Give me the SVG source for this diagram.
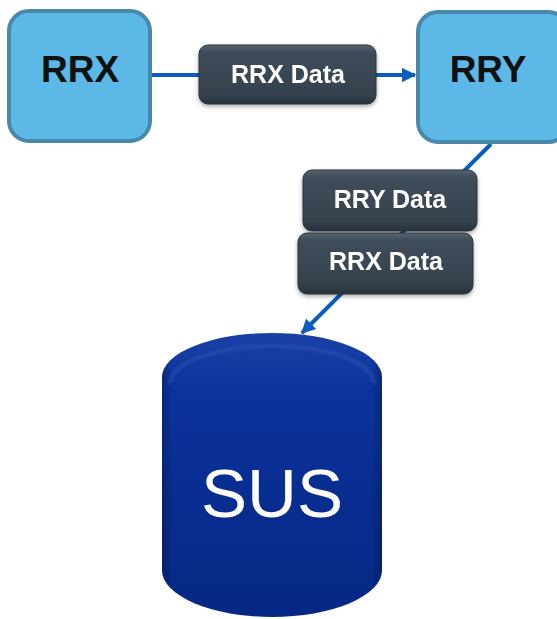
<svg xmlns="http://www.w3.org/2000/svg" width="557" height="619" viewBox="0 0 557 619">
  <style>
    .sys { fill: #5cb9e7; stroke: #4889ab; stroke-width: 4; }
    .sys-label { font-family: "Liberation Sans", Arial, sans-serif; font-weight: bold; font-size: 37px; fill: #111; text-anchor: middle; }
    .data { fill: url(#dataGrad); stroke: #2a343d; stroke-width: 1; }
    .data-label { font-family: "Liberation Sans", Arial, sans-serif; font-weight: bold; font-size: 25px; fill: #fff; text-anchor: middle; }
    .link { stroke: #0b5dbd; stroke-width: 4; fill: none; }
    .db-label { font-family: "Liberation Sans", Arial, sans-serif; font-size: 69px; fill: #fff; text-anchor: middle; }
  </style>
  <defs>
    <linearGradient id="dataGrad" x1="0" y1="0" x2="0" y2="1">
      <stop offset="0" stop-color="#56646f"/>
      <stop offset="0.12" stop-color="#3f4d5a"/>
      <stop offset="0.85" stop-color="#34414d"/>
      <stop offset="1" stop-color="#28323b"/>
    </linearGradient>
    <linearGradient id="dbGrad" x1="0" y1="0" x2="0" y2="1">
      <stop offset="0" stop-color="#1a41a6"/>
      <stop offset="0.2" stop-color="#0b339c"/>
      <stop offset="1" stop-color="#062784"/>
    </linearGradient>
    <linearGradient id="dbSide" x1="0" y1="0" x2="1" y2="0">
      <stop offset="0" stop-color="#000" stop-opacity="0.22"/>
      <stop offset="0.05" stop-color="#000" stop-opacity="0"/>
      <stop offset="0.95" stop-color="#000" stop-opacity="0"/>
      <stop offset="1" stop-color="#000" stop-opacity="0.22"/>
    </linearGradient>
    <filter id="shadow" x="-10%" y="-10%" width="120%" height="130%">
      <feDropShadow dx="0" dy="2" stdDeviation="2" flood-color="#000" flood-opacity="0.35"/>
    </filter>
    <filter id="soft" x="-5%" y="-5%" width="110%" height="110%">
      <feGaussianBlur stdDeviation="1.5"/>
    </filter>
    <marker id="arrow" viewBox="0 0 10 10" refX="9" refY="5" markerWidth="3.6" markerHeight="3.6" orient="auto">
      <path d="M0,0 L10,5 L0,10 Z" fill="#0b5dbd"/>
    </marker>
  </defs>

  <!-- connectors -->
  <g id="connectors">
    <line class="link" x1="152" y1="75" x2="415" y2="75" marker-end="url(#arrow)"/>
    <line class="link" x1="491" y1="144" x2="302" y2="333" marker-end="url(#arrow)"/>
  </g>

  <!-- source system -->
  <g id="rrx">
    <rect class="sys" x="9" y="11" width="141" height="130" rx="20"/>
    <text class="sys-label" x="80" y="82">RRX</text>
  </g>

  <!-- intermediate system -->
  <g id="rry">
    <rect class="sys" x="418" y="12" width="150" height="130" rx="20"/>
    <text class="sys-label" x="488" y="82">RRY</text>
  </g>

  <!-- data packets -->
  <g id="rrx-data-1" filter="url(#shadow)">
    <rect class="data" x="199" y="45" width="177" height="59" rx="9"/>
    <text class="data-label" x="288" y="83">RRX Data</text>
  </g>
  <g id="rry-data" filter="url(#shadow)">
    <rect class="data" x="303" y="170" width="174" height="61" rx="9"/>
    <text class="data-label" x="390" y="208">RRY Data</text>
  </g>
  <g id="rrx-data-2" filter="url(#shadow)">
    <rect class="data" x="298" y="233" width="175" height="61" rx="9"/>
    <text class="data-label" x="386" y="270">RRX Data</text>
  </g>

  <!-- storage -->
  <g id="sus">
    <path d="M162,377 A110,44 0 0 1 382,377 L382,570 A110,47 0 0 1 162,570 Z" fill="url(#dbGrad)"/>
    <path d="M162,377 A110,44 0 0 1 382,377 L382,570 A110,47 0 0 1 162,570 Z" fill="url(#dbSide)"/>
    <path d="M170,384 A102,38 0 0 1 374,384" fill="none" stroke="#3a5dba" stroke-width="3" opacity="0.5" filter="url(#soft)"/>
    <text class="db-label" x="272" y="517">SUS</text>
  </g>
</svg>
